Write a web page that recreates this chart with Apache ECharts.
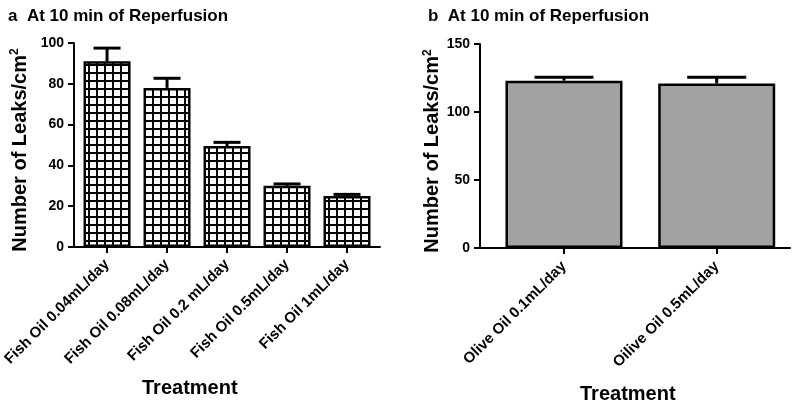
<!DOCTYPE html>
<html><head><meta charset="utf-8">
<script src="https://cdn.jsdelivr.net/npm/echarts@6/dist/echarts.min.js"></script>
<style>html,body{margin:0;padding:0;background:#fff}#c{width:798px;height:401px}</style>
</head><body><div id="c"></div>
<script>
const fishCats = ['Fish Oil 0.04mL/day','Fish Oil 0.08mL/day','Fish Oil 0.2 mL/day','Fish Oil 0.5mL/day','Fish Oil 1mL/day'];
const fishMeans = [91, 78, 49.5, 30, 25];
const fishErr = [6.5, 4.7, 1.8, 0.9, 0.8];
const oliveCats = ['Olive Oil 0.1mL/day','Oilive Oil 0.5mL/day'];
const oliveMeans = [123, 121];
const oliveErr = [2.5, 4.5];
const leftTicks = [0, 20, 40, 60, 80, 100];
const rightTicks = [0, 50, 100, 150];

const FONT = 'Liberation Sans';
const pat = document.createElement('canvas');
pat.width = 8; pat.height = 8;
const pc = pat.getContext('2d');
pc.fillStyle = '#fff'; pc.fillRect(0,0,8,8);
pc.fillStyle = '#000'; pc.fillRect(0,0,8,2); pc.fillRect(0,0,2,8);

function errSeries(xi, yi, means, errs, capPx) {
  return {
    type: 'custom', xAxisIndex: xi, yAxisIndex: yi, z: 1,
    data: means.map((m, i) => [i, m, errs[i]]),
    renderItem: function (params, api) {
      const i = api.value(0), m = api.value(1), e = api.value(2);
      const p0 = api.coord([i, m]);
      const p1 = api.coord([i, m + e]);
      const hw = capPx / 2;
      const st = { stroke: '#000', lineWidth: 3 };
      return { type: 'group', children: [
        { type: 'line', shape: { x1: p0[0], y1: p0[1], x2: p1[0], y2: p1[1] }, style: st },
        { type: 'line', shape: { x1: p1[0] - hw, y1: p1[1], x2: p1[0] + hw, y2: p1[1] }, style: st }
      ]};
    }
  };
}

const axisLine = { show: true, onZero: false, lineStyle: { color: '#000', width: 2 } };
const axisTick = { show: true, lineStyle: { color: '#000', width: 2 }, length: 6 };
const ylab = { color: '#000', fontWeight: 'bold', fontSize: 14, fontFamily: FONT, margin: 10 };
const yname = {
  color: '#000', fontWeight: 'bold', fontSize: 20, fontFamily: FONT, padding: [0, 10, 0, 0],
  rich: { sup: { fontSize: 12, fontWeight: 'bold', fontFamily: FONT, color: '#000', verticalAlign: 'top', padding: [0,0,10,0] } }
};
function xAx(grid, cats, min, max, margin) {
  const idx = cats.map((c, i) => i);
  return {
    gridIndex: grid, type: 'value', min: min, max: max, splitLine: { show: false },
    axisLine: axisLine,
    axisTick: Object.assign({ customValues: idx }, axisTick),
    axisLabel: { customValues: idx, formatter: v => cats[Math.round(v)] || '', color: '#000', fontWeight: 'bold', fontSize: 15, fontFamily: FONT, rotate: 45, margin: margin }
  };
}

const chart = echarts.init(document.getElementById('c'), null, { renderer: 'canvas' });
chart.setOption({
  animation: false,
  title: [
    { text: 'a  At 10 min of Reperfusion', left: 3, top: 3, textStyle: { fontSize: 17, fontWeight: 'bold', fontFamily: FONT, color: '#000' } },
    { text: 'b  At 10 min of Reperfusion', left: 423, top: 3, textStyle: { fontSize: 17, fontWeight: 'bold', fontFamily: FONT, color: '#000' } }
  ],
  grid: [
    { left: 70, right: 418, top: 43, bottom: 154 },
    { left: 480, right: 8, top: 44, bottom: 153 }
  ],
  xAxis: [
    xAx(0, fishCats, -0.55, 4.55, 15),
    xAx(1, oliveCats, -0.55, 1.48, 16)
  ],
  yAxis: [
    { gridIndex: 0, type: 'value', min: leftTicks[0], max: leftTicks[leftTicks.length-1], interval: 20,
      axisLine: axisLine, axisTick: axisTick, axisLabel: ylab, splitLine: { show: false },
      name: 'Number of Leaks/cm{sup|2}', nameLocation: 'middle', nameGap: 43, nameTextStyle: yname },
    { gridIndex: 1, type: 'value', min: rightTicks[0], max: rightTicks[rightTicks.length-1], interval: 50,
      axisLine: axisLine, axisTick: axisTick, axisLabel: ylab, splitLine: { show: false },
      name: 'Number of Leaks/cm{sup|2}', nameLocation: 'middle', nameGap: 35, nameTextStyle: yname }
  ],
  graphic: [
    { type: 'text', left: 142, top: 378, style: { text: 'Treatment', font: 'bold 20px "Liberation Sans"', fill: '#000' } },
    { type: 'text', left: 580, top: 384, style: { text: 'Treatment', font: 'bold 20px "Liberation Sans"', fill: '#000' } }
  ],
  series: [
    { type: 'bar', xAxisIndex: 0, yAxisIndex: 0, data: fishMeans.map((v, i) => [i, v]), barWidth: 47, z: 2,
      itemStyle: { color: { image: pat, repeat: 'repeat' }, borderColor: '#000', borderWidth: 2.5 } },
    errSeries(0, 0, fishMeans, fishErr, 27),
    { type: 'bar', xAxisIndex: 1, yAxisIndex: 1, data: oliveMeans.map((v, i) => [i, v]), barWidth: 117, z: 2,
      itemStyle: { color: '#a2a2a2', borderColor: '#000', borderWidth: 2.5 } },
    errSeries(1, 1, oliveMeans, oliveErr, 59)
  ]
});
</script></body></html>
